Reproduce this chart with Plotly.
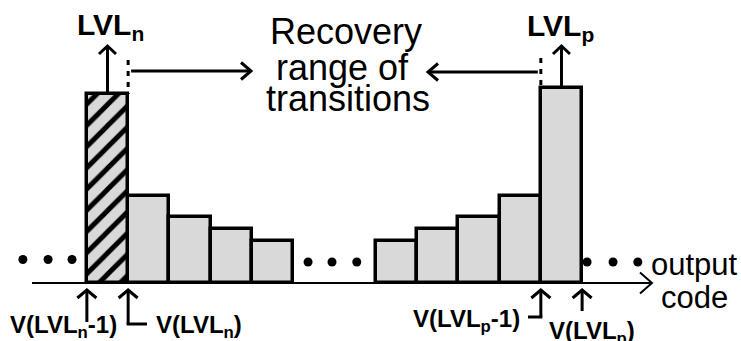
import plotly.graph_objects as go

# ---------------- data ----------------
left_codes = [0, 1, 2, 3, 4]
left_counts = [45.0, 20.7, 15.7, 12.9, 10.0]
right_codes = [7, 8, 9, 10, 11]
right_counts = [10.0, 12.9, 15.7, 20.7, 46.4]
hatched_code = 0          # LVL_n bin (drawn hatched)

dots_x = [-2.05, -1.44, -0.86, 4.86, 5.44, 6.04, 11.62, 12.25, 12.85]
dots_y = [5.6, 5.6, 5.6, 5.0, 5.0, 5.0, 5.0, 5.0, 5.0]

title_lines = ["Recovery", "range of", "transitions"]
axis_label_lines = ["output", "code"]

# ---------------- geometry helpers ----------------
W, H = 741, 341
X0PX, UX = 107.5, 41.27      # pixel of code 0 centre, px per code
Y0PX, UY = 283.0, 4.2        # baseline pixel, px per count

def to_x(px): return (px - X0PX) / UX
def to_y(py): return (Y0PX - py) / UY
def px_x(x): return X0PX + x * UX
def px_y(y): return Y0PX - y * UY

GRAY = "#d9d9d9"
FONT = "Liberation Sans, Arial, sans-serif"

fig = go.Figure()

plain_x = [c for c in left_codes + right_codes if c != hatched_code]
plain_y = [v for c, v in zip(left_codes + right_codes, left_counts + right_counts) if c != hatched_code]
hat_y = [v for c, v in zip(left_codes, left_counts) if c == hatched_code]

fig.add_trace(go.Bar(x=plain_x, y=plain_y, width=1.0,
                     marker=dict(color=GRAY, line=dict(color="black", width=3.5)),
                     hoverinfo="skip"))
fig.add_trace(go.Bar(x=[hatched_code], y=hat_y, width=1.0,
                     marker=dict(color=GRAY, line=dict(color="black", width=3.5),
                                 pattern=dict(shape="/", fgcolor="#000000", fgopacity=1,
                                              bgcolor=GRAY, size=15, solidity=0.33)),
                     hoverinfo="skip"))
fig.add_trace(go.Scatter(x=dots_x, y=dots_y, mode="markers",
                         marker=dict(color="black", size=9), hoverinfo="skip"))

shapes = []

def seg(p0, p1, width=3, dash=None):
    line = dict(color="black", width=width)
    if dash:
        line["dash"] = dash
    shapes.append(dict(type="line", xref="x", yref="y",
                       x0=to_x(p0[0]), y0=to_y(p0[1]), x1=to_x(p1[0]), y1=to_y(p1[1]),
                       line=line, layer="above"))

def head(tip, direction, length, half, width=3):
    dxp, dyp = direction
    bx, by = tip[0] - dxp * length, tip[1] - dyp * length
    nx, ny = -dyp, dxp
    a = (bx + nx * half, by + ny * half)
    b = (bx - nx * half, by - ny * half)
    path = "M {},{} L {},{} L {},{}".format(to_x(a[0]), to_y(a[1]), to_x(tip[0]), to_y(tip[1]),
                                            to_x(b[0]), to_y(b[1]))
    shapes.append(dict(type="path", xref="x", yref="y", path=path,
                       line=dict(color="black", width=width), layer="above"))

# output-code axis with arrow
seg((32, px_y(0)), (652, px_y(0)), width=2)
head((652, px_y(0)), (1, 0), 12, 10.5, width=2)

# LVL_n / LVL_p up arrows from tops of the extreme bins
n_top = (px_x(hatched_code), px_y(hat_y[0]))
p_top = (px_x(right_codes[-1]), px_y(right_counts[-1]))
for top in (n_top, p_top):
    seg((top[0], top[1]), (top[0], 46))
    head((top[0], 46), (0, -1), 8, 8.5)

# dashed boundaries + horizontal arrows (recovery range)
xl = px_x(hatched_code + 0.5)
xr = px_x(right_codes[-1] - 0.5)
seg((xl, 60), (xl, n_top[1]), dash="5px,6px")
seg((xr, 58), (xr, p_top[1]), dash="5px,6px")
seg((xl + 3, 71), (251, 71))
head((251, 71), (1, 0), 10, 8.5)
seg((xr - 3, 72), (428, 72))
head((428, 72), (-1, 0), 10, 8.5)

# bottom transition arrows
tip_y = px_y(0) + 7
b1 = px_x(hatched_code - 0.5)
b2 = px_x(hatched_code + 0.5)
b3 = px_x(right_codes[-1] - 0.5)
b4 = px_x(right_codes[-1] + 0.5)
seg((b1, tip_y), (b1, 322))
head((b1, tip_y), (0, -1), 8, 9.5)
seg((b2, tip_y), (b2, 324))
seg((b2 - 1.5, 324), (147, 324))
head((b2, tip_y), (0, -1), 8, 9.5)
seg((b3, tip_y), (b3, 317))
seg((b3 + 1.5, 317), (528, 317))
head((b3, tip_y), (0, -1), 8, 9.5)
seg((b4, tip_y), (b4, 311))
head((b4, tip_y), (0, -1), 8, 9.5)

# ---------------- text ----------------
ann = []
def text(s, cx, cy, size, bold=False):
    ann.append(dict(text=("<b>%s</b>" % s) if bold else s, x=cx / W, y=1 - cy / H,
                    xref="paper", yref="paper", xanchor="center", yanchor="middle",
                    showarrow=False, font=dict(family=FONT, size=size, color="black")))

for line, (cx, cy) in zip(title_lines, [(345.5, 31), (342, 67), (347.5, 99)]):
    text(line, cx, cy, 36)
for line, (cx, cy) in zip(axis_label_lines, [(694, 264), (694.5, 297)]):
    text(line, cx, cy, 31)

text("LVL<sub>n</sub>", 110, 26, 30, bold=True)
text("LVL<sub>p</sub>", 560.5, 27, 30, bold=True)
text("V(LVL<sub>n</sub>-1)", 63.5, 326, 24, bold=True)
text("V(LVL<sub>n</sub>)", 199, 326, 24, bold=True)
text("V(LVL<sub>p</sub>-1)", 466.5, 320, 24, bold=True)
text("V(LVL<sub>p</sub>)", 592, 332, 24, bold=True)

fig.update_layout(
    width=W, height=H, margin=dict(l=0, r=0, t=0, b=0),
    paper_bgcolor="white", plot_bgcolor="white", showlegend=False,
    bargap=0,
    xaxis=dict(visible=False, range=[to_x(0), to_x(W)], fixedrange=True),
    yaxis=dict(visible=False, range=[to_y(H), to_y(0)], fixedrange=True),
    shapes=shapes, annotations=ann,
)

fig.write_html("out.html")
